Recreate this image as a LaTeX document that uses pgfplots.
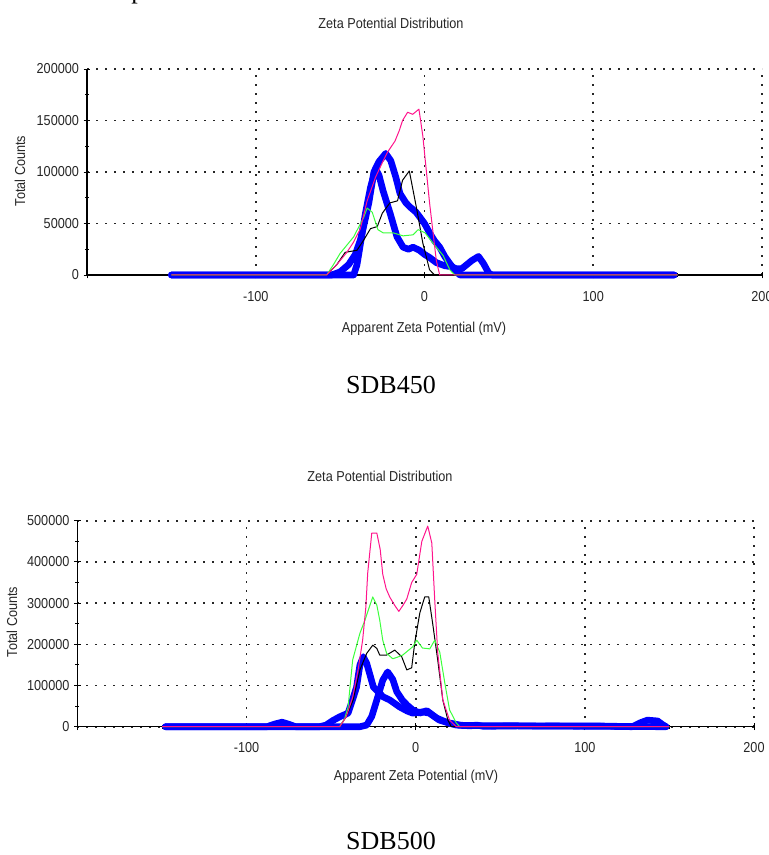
\documentclass[border=0pt]{standalone}
\usepackage{pgfplots}
\pgfplotsset{compat=1.18}
\usepackage{fontspec}
\setmainfont[FakeStretch=0.88]{Liberation Sans}
\newfontfamily\capfont{Liberation Serif}
\definecolor{zpink}{RGB}{255,20,140}
\definecolor{zgreen}{RGB}{60,255,60}
\definecolor{zblue}{RGB}{0,0,255}
\pgfplotsset{
  zeta/.style={
    scale only axis,
    axis x line=bottom, axis y line=left,
    axis line style={-, black, line width=1pt},
    xmin=-200, xmax=200,
    xtick={-200,-100,0,100,200}, xticklabels={,-100,0,100,200},
    minor x tick num=1, minor y tick num=1,
    scaled y ticks=false, scaled x ticks=false,
    grid=major,
    major grid style={black!85, line width=1.2pt, dash pattern=on 1.2pt off 5.55pt},
    tick align=center, major tick length=5pt, minor tick length=3pt,
    every tick/.style={black, line width=0.7pt},
    ticklabel style={font=\fontsize{10.8}{12}\selectfont, text=black!85},
    xticklabel style={yshift=-6pt},
    clip=false,
  },
  thick blue/.style={zblue, line width=5pt, line join=round, line cap=round},
  thin/.style={line width=0.75pt, line join=round},
}
\begin{document}
\begin{tikzpicture}
\path[use as bounding box] (0,0) rectangle (576pt,641.25pt);
% ---------------- top chart (SDB450)
\begin{axis}[zeta, at={(65.25pt,435pt)}, anchor=south west,
  width=506.25pt, height=154.5pt,
  ymin=0, ymax=200000, ytick={0,50000,100000,150000,200000},
  yticklabels={0,50000,100000,150000,200000}]
\addplot[thick blue] coordinates {(-150,0) (-55,0) (-50,3000) (-45,10000) (-41,20000) (-38,34000) (-35,55000) (-33,70000) (-30,100000) (-27,110000) (-25,114000) (-23,118000) (-20,111000) (-17,95000) (-14.5,79000) (-11,70000) (-8.6,66000) (-5,61000) (-2.7,56000) (0,50000) (3.3,40000) (6,33000) (9,27000) (12,18000) (15,11000) (19,3000) (21,0) (148,0)};
\addplot[thick blue] coordinates {(-150,0) (-42,0) (-40,10000) (-38,30000) (-35,60000) (-32,85000) (-29,103000) (-27,97000) (-24.6,82000) (-20.4,60000) (-16.3,37000) (-12.7,27000) (-9.5,25000) (-6.8,27000) (-3,24000) (0,20000) (3,17000) (7,12000) (12,9000) (16,8000) (19,6000) (22,6000) (25,10000) (28,14000) (32,18000) (35,11000) (38,2000) (40,0) (148,0)};
\addplot[thin, black] coordinates {(-150,0) (-58,0) (-52,10000) (-47,22000) (-40,24000) (-36,34000) (-32,45000) (-28,47000) (-25,60000) (-20.5,70000) (-16,72000) (-13,92000) (-9,101000) (-4.5,63000) (-1,31000) (3,5000) (6,0) (150,0)};
\addplot[thin, zgreen] coordinates {(-150,0) (-58,0) (-54,10000) (-50,21000) (-42,37000) (-36,56000) (-34,65000) (-31,61000) (-27.6,44000) (-24.6,41000) (-18.7,41000) (-12.7,38000) (-6.8,39000) (-3.8,44000) (0.3,41000) (5,31000) (11,19000) (15,5000) (18,0) (150,0)};
\addplot[thin, zpink] coordinates {(-150,0) (-58,0) (-52,10000) (-46,22000) (-42,32000) (-38,45000) (-34,72000) (-29,95000) (-25,109000) (-22,119000) (-17.5,130000) (-15,140000) (-13,150000) (-10,158000) (-7,156000) (-3.3,161000) (-1,135000) (3,70000) (7,14000) (9,0) (150,0)};
\end{axis}
% ---------------- bottom chart (SDB500)
\begin{axis}[zeta, at={(58.1pt,96.2pt)}, anchor=south west,
  width=507.4pt, height=154.5pt,
  ymin=0, ymax=500000, ytick={0,100000,200000,300000,400000,500000},
  yticklabels={0,100000,200000,300000,400000,500000}]
\addplot[thick blue] coordinates {(-148,0) (-88,0) (-83,7000) (-79,11000) (-75,6000) (-71,0) (-57,0) (-53,4000) (-49,15000) (-45,24000) (-40,33000) (-37,70000) (-35,96000) (-33,150000) (-31,170000) (-29,154000) (-27,125000) (-25,96000) (-21,80000) (-19.5,73000) (-15.4,65000) (-9.5,48000) (-5,38000) (-1.8,33000) (4,36000) (8,33000) (14,16000) (20,9000) (26,4000) (32,2000) (36,4000) (40,1000) (60,2000) (73,1500) (98,2000) (114,1500) (128,0) (133,10000) (137,16000) (143,14000) (146,5000) (148,0)};
\addplot[thick blue] coordinates {(-148,0) (-33,0) (-29,4000) (-26,25000) (-23,65000) (-19.5,113000) (-16.6,133000) (-13.6,115000) (-11.2,85000) (-8,65000) (-5,52000) (-1.8,41000) (2.4,33000) (6.5,39000) (8.5,33000) (12.4,21000) (18,11000) (24,4000) (28,3000) (148,0)};
\addplot[thin, black] coordinates {(-150,0) (-45,0) (-41,25000) (-37,65000) (-33,138000) (-29,178000) (-25.4,198000) (-23,190000) (-21.3,174000) (-17.2,174000) (-12.4,186000) (-8.3,170000) (-5.3,138000) (-2.4,143000) (-0.6,203000) (2.4,276000) (5.3,315000) (7.7,315000) (10,251000) (13,162000) (16,65000) (19,16000) (21,0) (150,0)};
\addplot[thin, zgreen] coordinates {(-150,0) (-45,0) (-42,20000) (-40,48000) (-37.3,162000) (-33,227000) (-30,259000) (-27.5,290000) (-25.4,315000) (-23,295000) (-21.3,259000) (-19.5,210000) (-17.2,178000) (-13.6,165000) (-10,170000) (-7.7,174000) (-1.8,194000) (0.6,210000) (4,191000) (8.3,189000) (11.2,210000) (14.2,181000) (17.2,106000) (20,41000) (24,9000) (26,0) (150,0)};
\addplot[thin, zpink] coordinates {(-150,0) (-45,0) (-41,25000) (-37.3,72000) (-34,140000) (-31.4,210000) (-29.5,290000) (-28.4,373000) (-26,470000) (-23,470000) (-21,430000) (-19.5,370000) (-17.5,335000) (-15.4,315000) (-12.5,295000) (-10,280000) (-7.5,295000) (-5.3,310000) (-2.4,350000) (0.6,370000) (3.6,450000) (7.1,487000) (9.5,446000) (11.2,310000) (13,180000) (16,65000) (20,16000) (24,0) (150,0)};
\end{axis}
% ---------------- texts
\begin{scope}[every node/.style={inner sep=0pt, text=black!85, font=\fontsize{10.8}{12}\selectfont}]
\node at (293.25pt,624pt) {Zeta Potential Distribution};
\node at (318pt,394.5pt) {Apparent Zeta Potential (mV)};
\node[rotate=90] at (15pt,513pt) {Total Counts};
\node at (285pt,284.25pt) {Zeta Potential Distribution};
\node at (312pt,58.5pt) {Apparent Zeta Potential (mV)};
\node[rotate=90] at (9pt,174.75pt) {Total Counts};
\end{scope}
\node[inner sep=0pt, font=\capfont\fontsize{19.5}{22}\selectfont] at (293.25pt,352.5pt) {SDB450};
\node[inner sep=0pt, font=\capfont\fontsize{19.5}{22}\selectfont] at (293.25pt,10.5pt) {SDB500};
\node[inner sep=0pt, anchor=base west, font=\capfont\fontsize{19.5}{22}\selectfont] at (98.25pt,642pt) {p};
\end{tikzpicture}
\end{document}
